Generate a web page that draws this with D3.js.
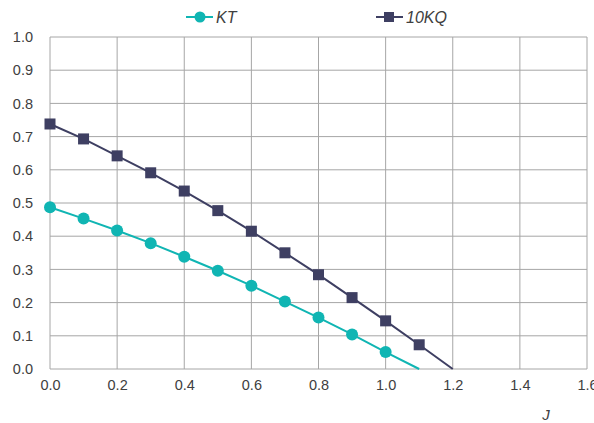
<!DOCTYPE html>
<html>
<head>
<meta charset="utf-8">
<script src="https://cdn.jsdelivr.net/npm/d3@7"></script>
<style>
  body { margin: 0; background: #fff; }
  text { font-family: "Liberation Sans", Arial, sans-serif; }
</style>
</head>
<body>
<svg width="594" height="423"></svg>
<script>
const jValues = [0.0, 0.1, 0.2, 0.3, 0.4, 0.5, 0.6, 0.7, 0.8, 0.9, 1.0, 1.1, 1.2];
const ktValues = [0.487, 0.453, 0.417, 0.379, 0.338, 0.296, 0.251, 0.203, 0.155, 0.104, 0.051, 0.0, null];
const kqValues = [0.738, 0.693, 0.642, 0.591, 0.536, 0.477, 0.415, 0.350, 0.284, 0.215, 0.145, 0.073, 0.0];
const xTicks = [0.0, 0.2, 0.4, 0.6, 0.8, 1.0, 1.2, 1.4, 1.6];
const yTicks = [0.0, 0.1, 0.2, 0.3, 0.4, 0.5, 0.6, 0.7, 0.8, 0.9, 1.0];

const svg = d3.select("svg");
const margin = { top: 37, right: 7, bottom: 54, left: 50 };
const innerW = 594 - margin.left - margin.right;
const innerH = 423 - margin.top - margin.bottom;

const x = d3.scaleLinear().domain([0, 1.6]).range([0, innerW]);
const y = d3.scaleLinear().domain([0, 1.0]).range([innerH, 0]);

const g = svg.append("g").attr("transform", `translate(${margin.left},${margin.top})`);

const gridColor = "#a6a6a6";
g.selectAll(".hgrid").data(yTicks).enter().append("line")
  .attr("x1", 0).attr("x2", innerW)
  .attr("y1", d => y(d)).attr("y2", d => y(d))
  .attr("stroke", gridColor).attr("stroke-width", 1);
g.selectAll(".vgrid").data(xTicks).enter().append("line")
  .attr("x1", d => x(d)).attr("x2", d => x(d))
  .attr("y1", 0).attr("y2", innerH)
  .attr("stroke", gridColor).attr("stroke-width", 1);

const xAxis = g.append("g").attr("transform", `translate(0,${innerH})`)
  .call(d3.axisBottom(x).tickValues(xTicks).tickFormat(d3.format(".1f")).tickSize(0).tickPadding(11));
const yAxis = g.append("g")
  .call(d3.axisLeft(y).tickValues(yTicks).tickFormat(d3.format(".1f")).tickSize(0).tickPadding(17));
[xAxis, yAxis].forEach(a => {
  a.select(".domain").remove();
  a.selectAll("text").attr("fill", "#404040").style("font-size", "14.5px");
});

const series = [
  { name: "KT", values: ktValues, color: "#10b5b3", shape: "circle" },
  { name: "10KQ", values: kqValues, color: "#3e3f62", shape: "square" }
];

const line = d3.line()
  .defined(d => d.v != null)
  .x(d => x(d.j)).y(d => y(d.v));

series.forEach(s => {
  const pts = jValues.map((j, i) => ({ j, v: s.values[i] }));
  g.append("path").datum(pts)
    .attr("d", line).attr("fill", "none")
    .attr("stroke", s.color).attr("stroke-width", 2);
  const marks = pts.filter(d => d.v != null && d.v > 0);
  if (s.shape === "circle") {
    g.selectAll(null).data(marks).enter().append("circle")
      .attr("cx", d => x(d.j)).attr("cy", d => y(d.v)).attr("r", 6)
      .attr("fill", s.color);
  } else {
    g.selectAll(null).data(marks).enter().append("rect")
      .attr("x", d => x(d.j) - 5.5).attr("y", d => y(d.v) - 5.5)
      .attr("width", 11).attr("height", 11)
      .attr("fill", s.color);
  }
});

// legend
const legendPos = [186, 376];
series.forEach((s, i) => {
  const lg = svg.append("g").attr("transform", `translate(${legendPos[i]},17)`);
  lg.append("line").attr("x1", 0).attr("x2", 27).attr("y1", 0).attr("y2", 0)
    .attr("stroke", s.color).attr("stroke-width", 2);
  if (s.shape === "circle") {
    lg.append("circle").attr("cx", 14).attr("cy", 0).attr("r", 5.5).attr("fill", s.color);
  } else {
    lg.append("rect").attr("x", 8).attr("y", -5).attr("width", 10).attr("height", 10).attr("fill", s.color);
  }
  lg.append("text").attr("x", 30).attr("y", 6)
    .attr("fill", "#404040").style("font-size", "16px").style("font-style", "italic")
    .text(s.name);
});

svg.append("text").attr("x", 546).attr("y", 420)
  .attr("fill", "#404040").style("font-size", "15px").style("font-style", "italic")
  .attr("text-anchor", "middle").text("J");
</script>
</body>
</html>
